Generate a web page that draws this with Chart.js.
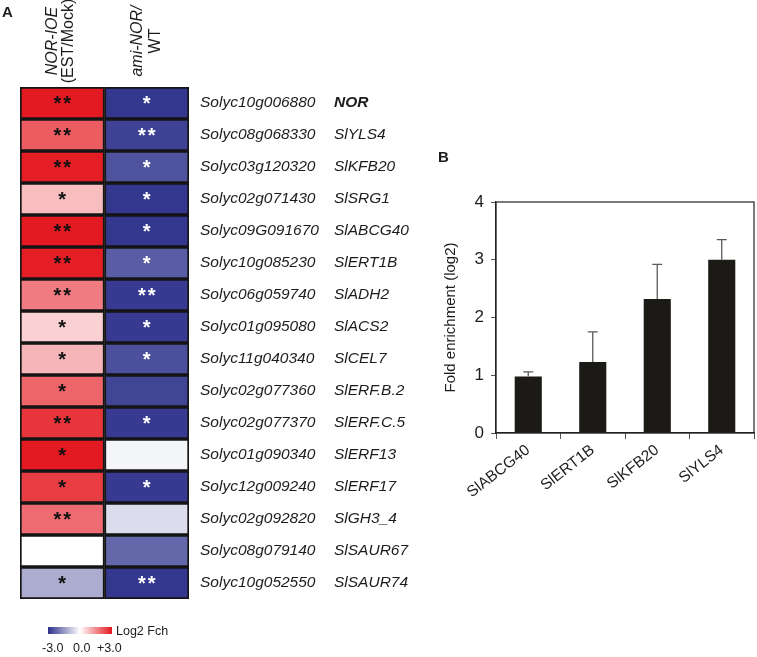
<!DOCTYPE html>
<html><head><meta charset="utf-8">
<script src="https://cdn.jsdelivr.net/npm/chart.js@4.4.1/dist/chart.umd.min.js"></script>
<style>
html,body{margin:0;padding:0;background:#fff;width:757px;height:657px;overflow:hidden;}
canvas{position:absolute;top:0;}
#heat{left:0;}
#bars{left:430px;}
</style></head><body>
<canvas id="heat" width="430" height="657"></canvas>
<canvas id="bars" width="327" height="657"></canvas>
<script>
// ---------- Panel A data ----------
const loci = ["Solyc10g006880","Solyc08g068330","Solyc03g120320","Solyc02g071430","Solyc09G091670","Solyc10g085230","Solyc06g059740","Solyc01g095080","Solyc11g040340","Solyc02g077360","Solyc02g077370","Solyc01g090340","Solyc12g009240","Solyc02g092820","Solyc08g079140","Solyc10g052550"];
const geneNames = ["NOR","SlYLS4","SlKFB20","SlSRG1","SlABCG40","SlERT1B","SlADH2","SlACS2","SlCEL7","SlERF.B.2","SlERF.C.5","SlERF13","SlERF17","SlGH3_4","SlSAUR67","SlSAUR74"];
const boldGenes = ["NOR"];
const columnTitles = [["NOR-IOE","(EST/Mock)"],["ami-NOR/","WT"]];
const ioeLog2 = [2.95, 2.1, 2.9, 0.85, 2.95, 2.9, 1.7, 0.6, 0.95, 2.0, 2.6, 2.95, 2.5, 1.9, 0.0, -1.2];
const amiLog2 = [-2.9, -2.75, -2.5, -2.9, -2.9, -2.35, -2.85, -2.85, -2.55, -2.7, -2.85, -0.15, -2.85, -0.5, -2.2, -2.9];
const ioeSig = ["**","**","**","*","**","**","**","*","*","*","**","*","*","**","","*"];
const amiSig = ["*","**","*","*","*","*","**","*","*","","*","","*","","","**"];
const legendTicks = ["-3.0","0.0","+3.0"];
const legendTitle = "Log2 Fch";

// ---------- Panel B data ----------
const chipGenes = ["SlABCG40","SlERT1B","SlKFB20","SlYLS4"];
const chipFold = [0.98, 1.23, 2.32, 3.0];
const chipErr = [0.08, 0.52, 0.60, 0.35];
const chipAxisTitle = "Fold enrichment (log2)";

const FONT = '"Liberation Sans", Arial, Helvetica, sans-serif';
const TXT = '#1c1c1c';
const BLUE = [44, 48, 138], RED = [228, 22, 30], WHITE = [255, 255, 255];
function colorFor(v) {
  const t = Math.max(-1, Math.min(1, v / 3));
  const end = t < 0 ? BLUE : RED;
  const a = Math.abs(t);
  const c = WHITE.map((w, i) => Math.round(w + (end[i] - w) * a));
  return `rgb(${c[0]},${c[1]},${c[2]})`;
}

const columns = [ioeLog2, amiLog2];
const sigs = [ioeSig, amiSig];
const starColors = ['#111', '#fff'];

const heatPlugin = {
  id: 'heatText',
  afterDatasetsDraw(chart) {
    const ctx = chart.ctx;
    const xs = chart.scales.x, ys = chart.scales.y;
    const area = chart.chartArea;
    ctx.save();
    // asterisks
    chart.data.datasets.forEach((ds, di) => {
      const meta = chart.getDatasetMeta(di);
      meta.data.forEach((el, i) => {
        const s = ds.sig[i];
        if (!s) return;
        const cx = (el.x + el.base) / 2;
        ctx.fillStyle = ds.starColor;
        ctx.font = `bold 20px ${FONT}`;
        ctx.letterSpacing = '2px';
        ctx.textAlign = 'center';
        ctx.textBaseline = 'middle';
        ctx.fillText(s, cx + 1, el.y + 1.5);
        ctx.letterSpacing = '0px';
      });
    });
    // column headers
    columnTitles.forEach((lines, c) => {
      const cx = xs.getPixelForValue(c + 0.5);
      const offs = c === 0 ? [-10, 6] : [-9, 9];
      lines.forEach((ln, k) => {
        ctx.save();
        ctx.translate(cx + offs[k], 41);
        ctx.rotate(-Math.PI / 2);
        ctx.font = (k === 0 ? 'italic ' : '') + `16px ${FONT}`;
        ctx.fillStyle = TXT;
        ctx.textAlign = 'center';
        ctx.textBaseline = 'middle';
        ctx.fillText(ln, 0, 0);
        ctx.restore();
      });
    });
    // gene labels
    loci.forEach((loc, i) => {
      const y = ys.getPixelForValue(i);
      ctx.fillStyle = TXT;
      ctx.textAlign = 'left';
      ctx.textBaseline = 'middle';
      ctx.font = `italic 15.5px ${FONT}`;
      ctx.fillText(loc, area.right + 11, y);
      const nm = geneNames[i];
      ctx.font = (boldGenes.includes(nm) ? 'italic bold ' : 'italic ') + `15.5px ${FONT}`;
      ctx.fillText(nm, area.right + 145, y);
    });
    // colour legend
    const lx0 = 48, lx1 = 112, ly = 627, lh = 7;
    const g = ctx.createLinearGradient(lx0, 0, lx1, 0);
    g.addColorStop(0, colorFor(-3));
    g.addColorStop(0.5, colorFor(0));
    g.addColorStop(1, colorFor(3));
    ctx.fillStyle = g;
    ctx.fillRect(lx0, ly, lx1 - lx0, lh);
    ctx.fillStyle = TXT;
    ctx.font = `12.5px ${FONT}`;
    ctx.textAlign = 'left';
    ctx.textBaseline = 'middle';
    ctx.fillText(legendTitle, 116, ly + 5);
    const tx = [42, 73, 97];
    legendTicks.forEach((t, k) => ctx.fillText(t, tx[k], 649));
    // panel letter
    ctx.font = `bold 15px ${FONT}`;
    ctx.textBaseline = 'top';
    ctx.fillText('A', 2, 5);
    ctx.restore();
  }
};

new Chart(document.getElementById('heat'), {
  type: 'bar',
  data: {
    labels: loci,
    datasets: columns.map((vals, c) => ({
      data: vals.map(() => [c, c + 1]),
      backgroundColor: vals.map(colorFor),
      borderColor: '#151515',
      borderWidth: 2,
      borderSkipped: false,
      grouped: false,
      barPercentage: 1,
      categoryPercentage: 1,
      sig: sigs[c],
      starColor: starColors[c]
    }))
  },
  options: {
    indexAxis: 'y',
    responsive: false,
    animation: false,
    devicePixelRatio: 1,
    layout: { padding: { left: 20, top: 87, right: 430 - 189, bottom: 657 - 599 } },
    scales: {
      x: { type: 'linear', min: 0, max: columns.length, display: false },
      y: { type: 'category', display: false }
    },
    plugins: { legend: { display: false }, tooltip: { enabled: false } }
  },
  plugins: [heatPlugin]
});

// ---------- Panel B ----------
const barPlugin = {
  id: 'barExtras',
  afterDatasetsDraw(chart) {
    const ctx = chart.ctx, a = chart.chartArea, ys = chart.scales.y;
    ctx.save();
    // error bars
    const meta = chart.getDatasetMeta(0);
    ctx.strokeStyle = '#5a5a5a';
    ctx.lineWidth = 1.3;
    meta.data.forEach((el, i) => {
      const top = ys.getPixelForValue(chipFold[i] + chipErr[i]);
      const base = ys.getPixelForValue(chipFold[i]);
      ctx.beginPath();
      ctx.moveTo(el.x, base);
      ctx.lineTo(el.x, top);
      ctx.moveTo(el.x - 5, top);
      ctx.lineTo(el.x + 5, top);
      ctx.stroke();
    });
    // frame
    ctx.strokeStyle = '#222';
    ctx.lineWidth = 1.2;
    ctx.strokeRect(a.left, a.top, a.right - a.left, a.bottom - a.top);
    // axis title
    ctx.save();
    ctx.translate(21, (a.top + a.bottom) / 2);
    ctx.rotate(-Math.PI / 2);
    ctx.fillStyle = TXT;
    ctx.font = `15px ${FONT}`;
    ctx.textAlign = 'center';
    ctx.textBaseline = 'middle';
    ctx.fillText(chipAxisTitle, 0, 0);
    ctx.restore();
    // panel letter
    ctx.fillStyle = TXT;
    ctx.font = `bold 15px ${FONT}`;
    ctx.textAlign = 'left';
    ctx.textBaseline = 'top';
    ctx.fillText('B', 8, 150);
    ctx.restore();
  }
};

new Chart(document.getElementById('bars'), {
  type: 'bar',
  data: {
    labels: chipGenes,
    datasets: [{
      data: chipFold,
      backgroundColor: '#1b1a17',
      barPercentage: 0.42,
      categoryPercentage: 1
    }]
  },
  options: {
    responsive: false,
    animation: false,
    devicePixelRatio: 1,
    layout: { padding: { top: 202, right: 3, left: 0, bottom: 0 } },
    scales: {
      x: {
        grid: { offset: true, drawOnChartArea: false, drawTicks: true, tickLength: 6, color: '#555' },
        border: { display: true, color: '#222', width: 1.2 },
        ticks: { minRotation: 38, maxRotation: 38, padding: 2, color: TXT, font: { family: FONT, size: 15.5 } },
        afterFit(s) { s.height = 657 - 433; }
      },
      y: {
        min: 0, max: 4,
        grid: { drawOnChartArea: false, drawTicks: true, tickLength: 5, color: '#555' },
        border: { display: true, color: '#222', width: 1.2 },
        ticks: { stepSize: 1, padding: 7, color: TXT, font: { family: FONT, size: 17 } },
        afterFit(s) { s.width = 66; }
      }
    },
    plugins: { legend: { display: false }, tooltip: { enabled: false } }
  },
  plugins: [barPlugin]
});
</script>
</body></html>
